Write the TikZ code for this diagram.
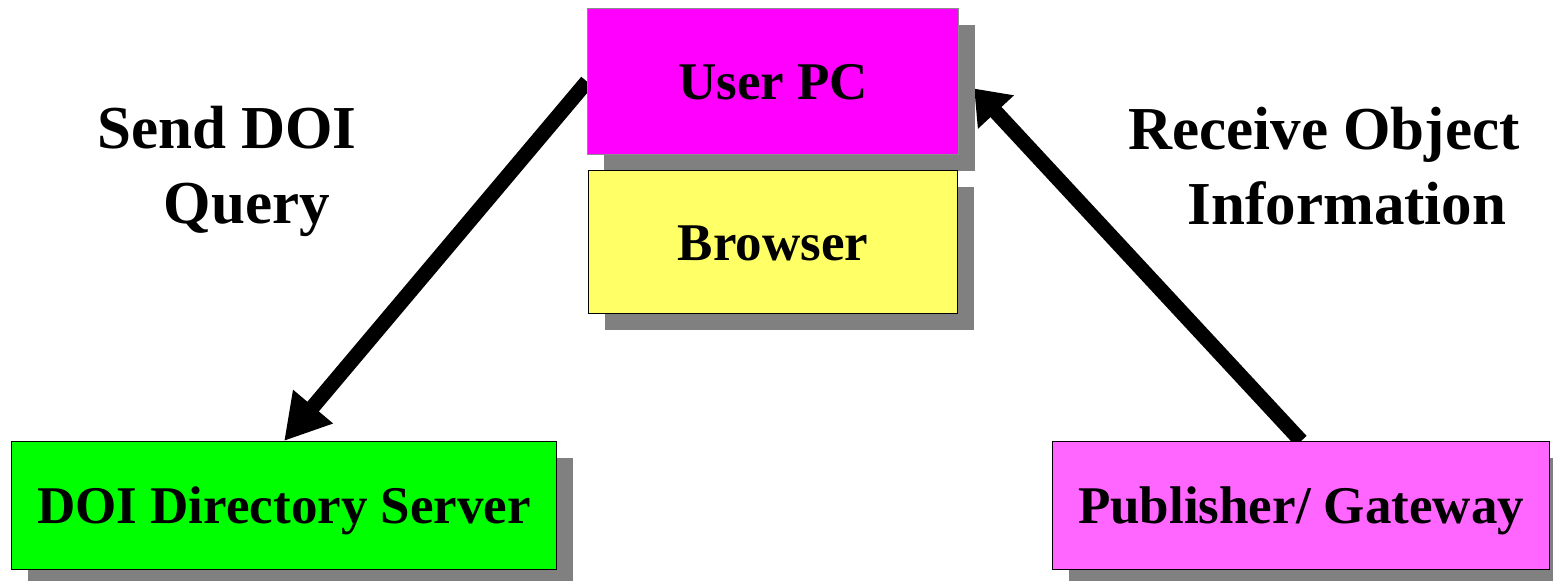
\documentclass[tikz,border=0pt]{standalone}
\usepackage{fontspec}
\setmainfont{Liberation Serif}
\usetikzlibrary{arrows.meta,shadows,backgrounds}
\definecolor{upcmag}{HTML}{FF00FF}
\definecolor{brwyel}{HTML}{FFFF66}
\definecolor{doigrn}{HTML}{00FF00}
\definecolor{pubpink}{HTML}{FF66FF}
\definecolor{shadowgray}{HTML}{808080}
\begin{document}
\begin{tikzpicture}[x=1pt,y=-1pt,
  box/.style={draw=black, line width=1.2pt, inner sep=0pt, anchor=north west,
    font=\bfseries\fontsize{53}{60}\selectfont, text height=36pt, text depth=0pt,
    drop shadow={shadow xshift=16pt, shadow yshift=-16pt, opacity=1, fill=shadowgray, draw=none}},
  lbl/.style={align=center, font=\bfseries\fontsize{61}{75}\selectfont, anchor=base},
  conn/.style={line width=15pt, draw=black}]
\clip (0,0) rectangle (1553,581);
\node[box, fill=upcmag, draw=black!45, minimum width=371pt, minimum height=146pt] (upc) at (587,8) {User PC};
\node[box, fill=brwyel, minimum width=369pt, minimum height=143pt] (brw) at (588,170) {Browser};
\node[box, fill=doigrn, minimum width=545pt, minimum height=128pt] (doi) at (11,441) {DOI Directory Server};
\node[box, fill=pubpink, minimum width=497pt, minimum height=128pt] (pub) at (1052,441) {Publisher/ Gateway};
\node[lbl] (send) at (227,223) {Send DOI\\\hspace*{40pt}Query};
\node[lbl] (recv) at (1324,224) {Receive Object\\\hspace*{46pt}Information};
\begin{scope}[on background layer]
\fill[white] (0,0) rectangle (1553,581);
\draw[conn, -{Triangle[length=45pt,width=49pt]}] (upc.west) -- (doi.north);
\draw[conn, -{Triangle[length=32pt,width=47pt]}] (pub.north) -- ([xshift=15pt,yshift=-7pt]upc.east);
\end{scope}
\end{tikzpicture}
\end{document}
